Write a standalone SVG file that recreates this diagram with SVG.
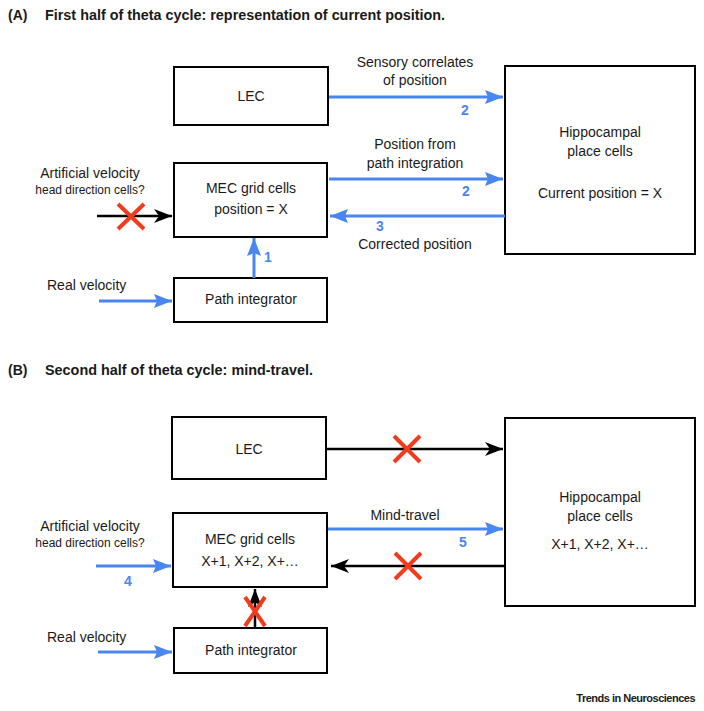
<svg xmlns="http://www.w3.org/2000/svg" width="704" height="711" viewBox="0 0 704 711">
<style>
text{font-family:"Liberation Sans",Arial,sans-serif;fill:#1a1a1a}
.t{font-size:14px}
.s{font-size:12px}
.c{text-anchor:middle}
.h{font-size:14px;font-weight:bold}
.n{font-size:14px;font-weight:bold;fill:#4a86f0;text-anchor:middle}
.box{fill:#fff;stroke:#000;stroke-width:2}
.b{stroke:#4a86f0;stroke-width:3;fill:none}
.k{stroke:#000;stroke-width:2.5;fill:none}
.x{stroke:#f23a1d;stroke-width:4;fill:none}
</style>
<defs>
<marker id="ab" markerUnits="userSpaceOnUse" markerWidth="20" markerHeight="14" refX="18" refY="7" orient="auto"><path d="M0,0 L18,7 L0,14 L3,7 z" fill="#4a86f0"/></marker>
<marker id="ak" markerUnits="userSpaceOnUse" markerWidth="20" markerHeight="14" refX="18" refY="7" orient="auto"><path d="M0,0 L18,7 L0,14 L5,7 z" fill="#000"/></marker>
</defs>
<rect width="704" height="711" fill="#fff"/>

<text class="h" x="8" y="20">(A)</text>
<text class="h" x="45" y="20" textLength="400" lengthAdjust="spacingAndGlyphs">First half of theta cycle: representation of current position.</text>
<text class="h" x="8" y="375">(B)</text>
<text class="h" x="45" y="375" textLength="268" lengthAdjust="spacingAndGlyphs">Second half of theta cycle:  mind-travel.</text>

<g id="A-LEC"><rect class="box" x="174" y="67" width="154" height="58"/><text class="t c" x="251" y="101">LEC</text></g>
<g id="A-hippo"><rect class="box" x="505" y="66" width="190" height="188"/><text class="t c" x="600" y="137">Hippocampal</text><text class="t c" x="600" y="156">place cells</text><text class="t c" x="600" y="198">Current position = X</text></g>
<g id="A-MEC"><rect class="box" x="174" y="163" width="153" height="74"/><text class="t c" x="251" y="193">MEC grid cells</text><text class="t c" x="251" y="214">position = X</text></g>
<g id="A-path"><rect class="box" x="174" y="278" width="153" height="44"/><text class="t c" x="251" y="304">Path integrator</text></g>
<g id="A-inputs"><text class="t c" x="90" y="178">Artificial velocity</text><text class="s c" x="90" y="194">head direction cells?</text><text class="t" x="47" y="290">Real velocity</text></g>

<g id="B-LEC"><rect class="box" x="172" y="417" width="154" height="62"/><text class="t c" x="249" y="454">LEC</text></g>
<g id="B-hippo"><rect class="box" x="505" y="418" width="190" height="188"/><text class="t c" x="600" y="502">Hippocampal</text><text class="t c" x="600" y="521">place cells</text><text class="t c" x="600" y="549">X+1, X+2, X+…</text></g>
<g id="B-MEC"><rect class="box" x="173" y="513" width="154" height="74"/><text class="t c" x="250" y="544">MEC grid cells</text><text class="t c" x="250" y="566">X+1, X+2, X+…</text></g>
<g id="B-path"><rect class="box" x="174" y="628" width="153" height="45"/><text class="t c" x="251" y="655">Path integrator</text></g>
<g id="B-inputs"><text class="t c" x="90" y="531">Artificial velocity</text><text class="s c" x="90" y="547">head direction cells?</text><text class="t" x="47" y="642">Real velocity</text></g>

<g id="connectors">
<line class="b" x1="329" y1="97" x2="503" y2="97" marker-end="url(#ab)"/>
<text class="t c" x="415" y="67">Sensory correlates</text><text class="t c" x="415" y="85">of position</text><text class="n" x="465" y="115">2</text>
<line class="b" x1="329" y1="179" x2="503" y2="179" marker-end="url(#ab)"/>
<text class="t c" x="415" y="149">Position from</text><text class="t c" x="415" y="168">path integration</text><text class="n" x="466" y="196">2</text>
<line class="b" x1="505" y1="216" x2="330" y2="216" marker-end="url(#ab)"/>
<text class="n" x="380" y="231">3</text><text class="t c" x="415" y="249">Corrected position</text>
<line class="k" x1="97" y1="216" x2="172" y2="216" marker-end="url(#ak)"/>
<path class="x" d="M118,204 L144,229 M144,204 L118,229"/>
<line class="b" x1="254" y1="278" x2="254" y2="238" marker-end="url(#ab)"/>
<text class="n" x="268" y="262">1</text>
<line class="b" x1="99" y1="301" x2="172" y2="301" marker-end="url(#ab)"/>

<line class="k" x1="326" y1="449" x2="503" y2="449" marker-end="url(#ak)"/>
<path class="x" d="M394,436 L420,462 M420,436 L394,462"/>
<line class="b" x1="328" y1="529" x2="503" y2="529" marker-end="url(#ab)"/>
<text class="t c" x="405" y="520">Mind-travel</text><text class="n" x="463" y="547">5</text>
<line class="k" x1="505" y1="566" x2="331" y2="566" marker-end="url(#ak)"/>
<path class="x" d="M395,553 L421,579 M421,553 L395,579"/>
<line class="b" x1="96" y1="566" x2="171" y2="566" marker-end="url(#ab)"/>
<text class="n" x="128" y="586">4</text>
<line class="k" x1="255" y1="628" x2="255" y2="589" marker-end="url(#ak)"/>
<path class="x" d="M245,597 L265,626 M265,597 L245,626"/>
<line class="b" x1="98" y1="652" x2="172" y2="652" marker-end="url(#ab)"/>
</g>

<text x="695" y="702" text-anchor="end" style="font-size:11px;font-weight:bold;letter-spacing:-0.5px">Trends in Neurosciences</text>
</svg>
